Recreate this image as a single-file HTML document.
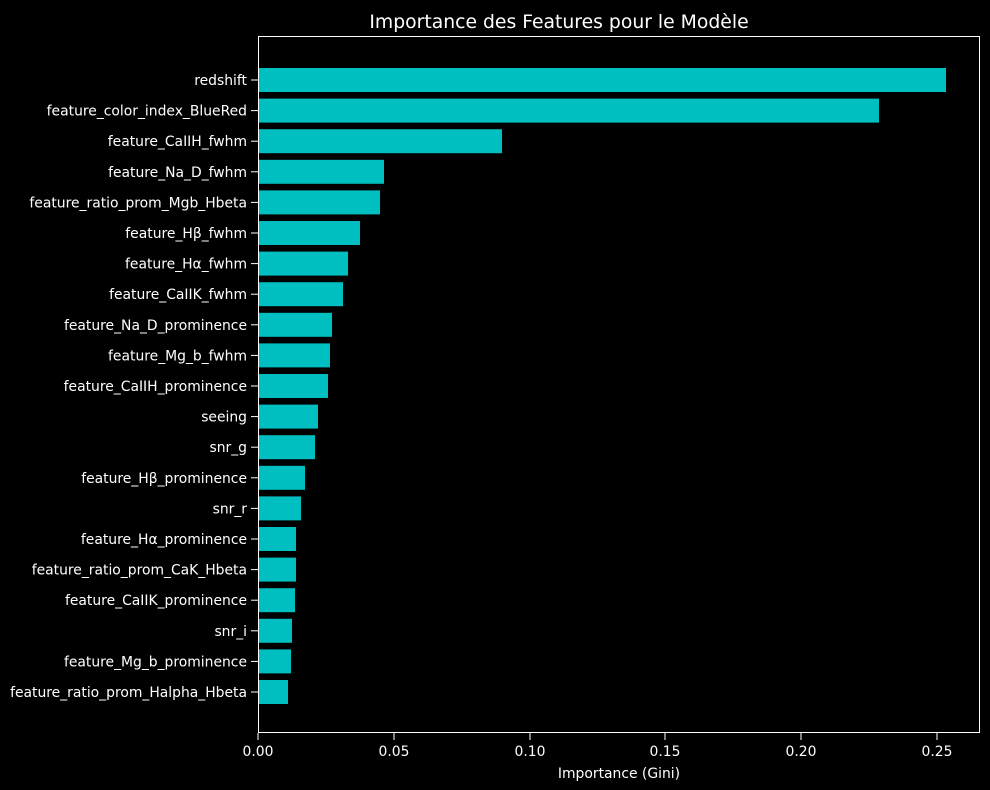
<!DOCTYPE html>
<html><head><meta charset="utf-8"><style>
body{margin:0;background:#000;}
svg{display:block;font-family:"DejaVu Sans","Liberation Sans",sans-serif;}
</style></head><body>
<svg width="990" height="790" xmlns="http://www.w3.org/2000/svg">
<rect width="990" height="790" fill="#000"/>
<text x="559" y="28" fill="#fff" font-size="18.8" text-anchor="middle">Importance des Features pour le Modèle</text>
<g fill="#00bfc0">
<rect x="258" y="68" width="688" height="24"/>
<rect x="258" y="98.6" width="621" height="24"/>
<rect x="258" y="129.2" width="244" height="24"/>
<rect x="258" y="159.8" width="126" height="24"/>
<rect x="258" y="190.4" width="122" height="24"/>
<rect x="258" y="221" width="102" height="24"/>
<rect x="258" y="251.6" width="90" height="24"/>
<rect x="258" y="282.2" width="85" height="24"/>
<rect x="258" y="312.8" width="74" height="24"/>
<rect x="258" y="343.4" width="72" height="24"/>
<rect x="258" y="374" width="70" height="24"/>
<rect x="258" y="404.6" width="60" height="24"/>
<rect x="258" y="435.2" width="57" height="24"/>
<rect x="258" y="465.8" width="47" height="24"/>
<rect x="258" y="496.4" width="43" height="24"/>
<rect x="258" y="527" width="38" height="24"/>
<rect x="258" y="557.6" width="38" height="24"/>
<rect x="258" y="588.2" width="37" height="24"/>
<rect x="258" y="618.8" width="34" height="24"/>
<rect x="258" y="649.4" width="33" height="24"/>
<rect x="258" y="680" width="30" height="24"/>
</g>
<rect x="258.5" y="36.5" width="721" height="696" fill="none" stroke="#fff" stroke-width="1"/>
<g fill="#fff" font-size="13.9" text-anchor="end">
<text x="247" y="85">redshift</text>
<text x="247" y="115.6">feature_color_index_BlueRed</text>
<text x="247" y="146.2">feature_CaIIH_fwhm</text>
<text x="247" y="176.8">feature_Na_D_fwhm</text>
<text x="247" y="207.4">feature_ratio_prom_Mgb_Hbeta</text>
<text x="247" y="238">feature_Hβ_fwhm</text>
<text x="247" y="268.6">feature_Hα_fwhm</text>
<text x="247" y="299.2">feature_CaIIK_fwhm</text>
<text x="247" y="329.8">feature_Na_D_prominence</text>
<text x="247" y="360.4">feature_Mg_b_fwhm</text>
<text x="247" y="391">feature_CaIIH_prominence</text>
<text x="247" y="421.6">seeing</text>
<text x="247" y="452.2">snr_g</text>
<text x="247" y="482.8">feature_Hβ_prominence</text>
<text x="247" y="513.4">snr_r</text>
<text x="247" y="544">feature_Hα_prominence</text>
<text x="247" y="574.6">feature_ratio_prom_CaK_Hbeta</text>
<text x="247" y="605.2">feature_CaIIK_prominence</text>
<text x="247" y="635.8">snr_i</text>
<text x="247" y="666.4">feature_Mg_b_prominence</text>
<text x="247" y="697">feature_ratio_prom_Halpha_Hbeta</text>
</g>
<g stroke="#fff">
<line x1="251" x2="258" y1="80" y2="80"/><line x1="251" x2="258" y1="110.6" y2="110.6"/><line x1="251" x2="258" y1="141.2" y2="141.2"/><line x1="251" x2="258" y1="171.8" y2="171.8"/><line x1="251" x2="258" y1="202.4" y2="202.4"/><line x1="251" x2="258" y1="233" y2="233"/><line x1="251" x2="258" y1="263.6" y2="263.6"/><line x1="251" x2="258" y1="294.2" y2="294.2"/><line x1="251" x2="258" y1="324.8" y2="324.8"/><line x1="251" x2="258" y1="355.4" y2="355.4"/><line x1="251" x2="258" y1="386" y2="386"/><line x1="251" x2="258" y1="416.6" y2="416.6"/><line x1="251" x2="258" y1="447.2" y2="447.2"/><line x1="251" x2="258" y1="477.8" y2="477.8"/><line x1="251" x2="258" y1="508.4" y2="508.4"/><line x1="251" x2="258" y1="539" y2="539"/><line x1="251" x2="258" y1="569.6" y2="569.6"/><line x1="251" x2="258" y1="600.2" y2="600.2"/><line x1="251" x2="258" y1="630.8" y2="630.8"/><line x1="251" x2="258" y1="661.4" y2="661.4"/><line x1="251" x2="258" y1="692" y2="692"/>
<line x1="258" x2="258" y1="733" y2="740"/><line x1="394" x2="394" y1="733" y2="740"/><line x1="530" x2="530" y1="733" y2="740"/><line x1="665" x2="665" y1="733" y2="740"/><line x1="801" x2="801" y1="733" y2="740"/><line x1="937" x2="937" y1="733" y2="740"/>
</g>
<g fill="#fff" font-size="13.9" text-anchor="middle">
<text x="258" y="756">0.00</text><text x="394" y="756">0.05</text><text x="530" y="756">0.10</text><text x="665" y="756">0.15</text><text x="801" y="756">0.20</text><text x="937" y="756">0.25</text>
<text x="619" y="778">Importance (Gini)</text>
</g>
</svg>
</body></html>
